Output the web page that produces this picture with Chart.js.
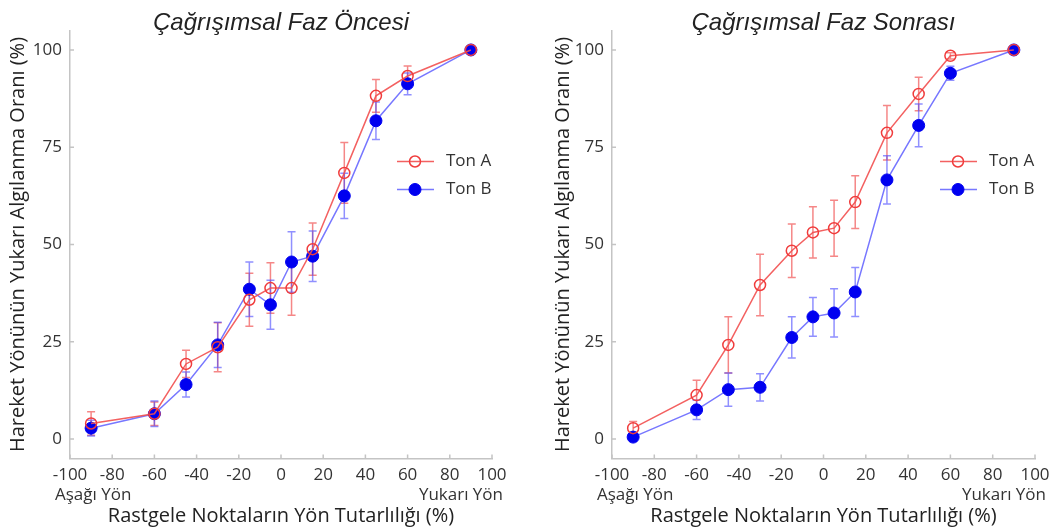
<!DOCTYPE html>
<html>
<head>
<meta charset="utf-8">
<script src="https://cdn.jsdelivr.net/npm/chart.js@4/dist/chart.umd.min.js"></script>
<style>
  html, body { margin: 0; padding: 0; background: #fff; }
  #wrap { position: relative; width: 1058px; height: 530px; }
  canvas { position: absolute; top: 0; }
</style>
</head>
<body>
<div id="wrap">
  <canvas id="onceChart" width="529" height="530" style="left:0"></canvas>
  <canvas id="sonraChart" width="529" height="530" style="left:529px"></canvas>
</div>
<script>
// x positions (coherence %) shared by both panels
const coherence = [-90, -60, -45, -30, -15, -5, 5, 15, 30, 45, 60, 90];
const xTicks = [-100, -80, -60, -40, -20, 0, 20, 40, 60, 80, 100];
const yTicks = [0, 25, 50, 75, 100];

// Çağrışımsal Faz Öncesi
const onceTonA    = [4, 6.5, 19.3, 23.6, 35.8, 38.8, 38.8, 48.8, 68.4, 88.2, 93.3, 100];
const onceTonAErr = [3, 3, 3.5, 6.3, 6.8, 6.5, 7, 6.7, 7.8, 4.2, 2.6, 0];
const onceTonB    = [2.8, 6.5, 14, 24.2, 38.5, 34.5, 45.5, 47, 62.5, 81.8, 91.3, 100];
const onceTonBErr = [2, 3.3, 3.2, 5.8, 7, 6.3, 7.8, 6.5, 5.8, 4.8, 2.8, 0];

// Çağrışımsal Faz Sonrası
const sonraTonA    = [2.8, 11.3, 24.2, 39.6, 48.4, 53.1, 54.2, 60.9, 78.7, 88.7, 98.5, 100];
const sonraTonAErr = [1.7, 3.8, 7.2, 7.9, 6.9, 6.6, 7.2, 6.8, 7, 4.3, 0.8, 0];
const sonraTonB    = [0.5, 7.5, 12.7, 13.3, 26.1, 31.4, 32.4, 37.8, 66.6, 80.6, 94, 100];
const sonraTonBErr = [0.5, 2.5, 4.3, 3.5, 5.3, 5, 6.2, 6.3, 6.2, 5.5, 1.8, 0];

const RED = 'rgba(242, 80, 80, 0.9)';
const RED_ERR = 'rgba(240, 70, 70, 0.65)';
const BLUE = 'rgba(95, 95, 255, 0.85)';
const BLUE_ERR = 'rgba(70, 70, 255, 0.6)';
const TEXT = '#333';
const AXIS = '#c4c4c4';
const SANS = '"Open Sans", "Noto Sans", sans-serif';

// error bars, inward tick marks, direction labels and legend
const extras = {
  id: 'extras',
  beforeDatasetsDraw(chart) {
    const ctx = chart.ctx;
    const xs = chart.scales.x, ys = chart.scales.y;
    chart.data.datasets.forEach((ds) => {
      ctx.save();
      ctx.strokeStyle = ds.errColor;
      ctx.lineWidth = 1.5;
      ds.data.forEach((p, j) => {
        const e = ds.errors[j];
        if (!e) return;
        const px = xs.getPixelForValue(p.x);
        const top = ys.getPixelForValue(p.y + e);
        const bot = ys.getPixelForValue(p.y - e);
        ctx.beginPath();
        ctx.moveTo(px, top); ctx.lineTo(px, bot);
        ctx.moveTo(px - 4, top); ctx.lineTo(px + 4, top);
        ctx.moveTo(px - 4, bot); ctx.lineTo(px + 4, bot);
        ctx.stroke();
      });
      ctx.restore();
    });
  },
  afterDraw(chart) {
    const ctx = chart.ctx;
    const area = chart.chartArea;
    const xs = chart.scales.x, ys = chart.scales.y;
    ctx.save();
    ctx.strokeStyle = AXIS;
    ctx.lineWidth = 1.5;
    ctx.beginPath();
    xTicks.forEach(v => {
      const px = xs.getPixelForValue(v);
      ctx.moveTo(px, area.bottom); ctx.lineTo(px, area.bottom - 4);
    });
    yTicks.forEach(v => {
      const py = ys.getPixelForValue(v);
      ctx.moveTo(area.left, py); ctx.lineTo(area.left + 4, py);
    });
    ctx.stroke();

    ctx.fillStyle = TEXT;
    ctx.font = '17px ' + SANS;
    ctx.textBaseline = 'middle';
    ctx.textAlign = 'left';
    ctx.fillText('Aşağı Yön', area.left - 15, 495);
    ctx.textAlign = 'right';
    ctx.fillText('Yukarı Yön', area.right + 11, 495);

    // legend
    const lx = area.right - 95;
    chart.data.datasets.forEach((ds, i) => {
      const ly = area.top + 131 + i * 28;
      ctx.strokeStyle = ds.borderColor;
      ctx.lineWidth = 1.5;
      ctx.beginPath();
      ctx.moveTo(lx, ly); ctx.lineTo(lx + 37, ly);
      ctx.stroke();
      ctx.beginPath();
      ctx.arc(lx + 18, ly, ds.pointRadius, 0, Math.PI * 2);
      if (ds.pointBackgroundColor !== 'transparent') {
        ctx.fillStyle = ds.pointBackgroundColor;
        ctx.fill();
      }
      ctx.strokeStyle = ds.pointBorderColor;
      ctx.lineWidth = ds.pointBorderWidth;
      ctx.stroke();
      ctx.fillStyle = TEXT;
      ctx.font = '17px ' + SANS;
      ctx.textAlign = 'left';
      ctx.fillText(ds.label, lx + 49, ly);
    });
    ctx.restore();
  }
};

function makeChart(id, title, tonA, tonAErr, tonB, tonBErr, yWidth, padRight, yTitlePad) {
  const pts = arr => coherence.map((x, i) => ({ x: x, y: arr[i] }));
  return new Chart(document.getElementById(id), {
    type: 'line',
    data: {
      datasets: [{
        label: 'Ton A',
        data: pts(tonA),
        errors: tonAErr,
        errColor: RED_ERR,
        borderColor: RED,
        borderWidth: 1.5,
        pointRadius: 5.5,
        pointBorderWidth: 1.5,
        pointBorderColor: 'rgb(240, 60, 60)',
        pointBackgroundColor: 'transparent'
      }, {
        label: 'Ton B',
        data: pts(tonB),
        errors: tonBErr,
        errColor: BLUE_ERR,
        borderColor: BLUE,
        borderWidth: 1.5,
        pointRadius: 6,
        pointBorderWidth: 1,
        pointBorderColor: '#0000f0',
        pointBackgroundColor: '#0000f0'
      }]
    },
    options: {
      responsive: false,
      animation: false,
      layout: { padding: { left: 0, right: padRight, top: 0, bottom: 0 } },
      plugins: {
        legend: { display: false },
        tooltip: { enabled: false },
        title: {
          display: true,
          fullSize: false,
          text: title,
          color: '#222',
          font: { family: '"Liberation Sans", Arial, sans-serif', size: 24, style: 'italic', weight: 'normal', lineHeight: 1.2 },
          padding: { top: 9, bottom: -7.3 }
        }
      },
      scales: {
        x: {
          type: 'linear',
          min: -100,
          max: 100,
          afterBuildTicks: s => { s.ticks = xTicks.map(v => ({ value: v })); },
          afterFit: s => { s.height = 71.5; },
          grid: { display: false, drawTicks: false },
          border: { display: true, color: AXIS, width: 1.5 },
          ticks: { color: TEXT, padding: 6, maxRotation: 0, font: { family: SANS, size: 17 } },
          title: {
            display: true,
            text: 'Rastgele Noktaların Yön Tutarlılığı (%)',
            color: '#222',
            font: { family: SANS, size: 20, lineHeight: 1.2 },
            padding: { top: 0, bottom: 2 }
          }
        },
        y: {
          type: 'linear',
          min: -5,
          max: 105,
          afterBuildTicks: s => { s.ticks = yTicks.map(v => ({ value: v })); },
          afterFit: s => { s.width = yWidth; },
          grid: { display: false, drawTicks: false },
          border: { display: true, color: AXIS, width: 1.5 },
          ticks: { color: TEXT, padding: 8, font: { family: SANS, size: 17 } },
          title: {
            display: true,
            text: 'Hareket Yönünün Yukarı Algılanma Oranı (%)',
            color: '#222',
            font: { family: SANS, size: 20, lineHeight: 1.2 },
            padding: { top: yTitlePad, bottom: 0 }
          }
        }
      }
    },
    plugins: [extras]
  });
}

makeChart('onceChart', 'Çağrışımsal Faz Öncesi', onceTonA, onceTonAErr, onceTonB, onceTonBErr, 70, 37, 6);
makeChart('sonraChart', 'Çağrışımsal Faz Sonrası', sonraTonA, sonraTonAErr, sonraTonB, sonraTonBErr, 83, 23, 22);
</script>
</body>
</html>
